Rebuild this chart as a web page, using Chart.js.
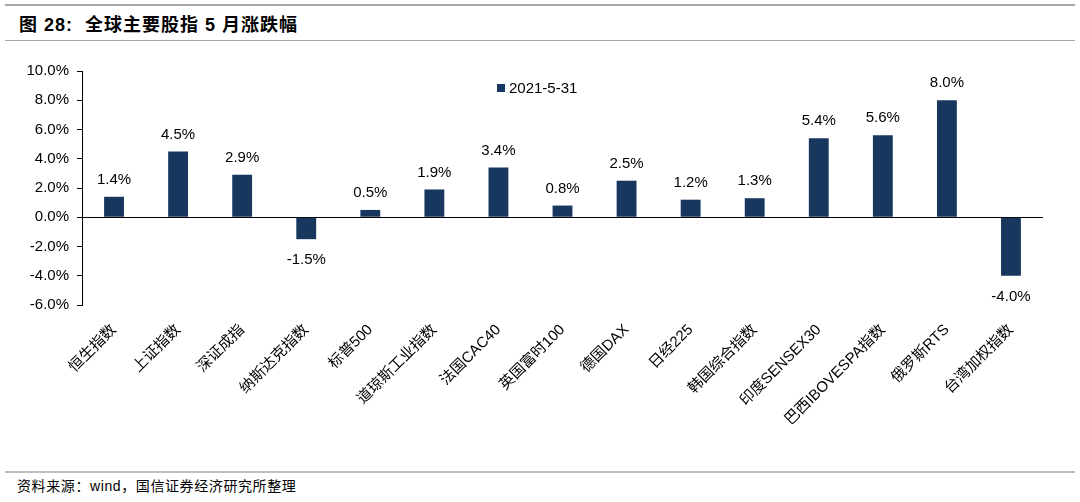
<!DOCTYPE html>
<html><head><meta charset="utf-8">
<script src="https://cdn.jsdelivr.net/npm/chart.js@4/dist/chart.umd.min.js"></script>
<style>
html,body{margin:0;padding:0;background:#fff;}
body{width:1080px;height:502px;position:relative;overflow:hidden;font-family:"Liberation Sans","Noto Sans CJK SC",sans-serif;}
#wrap{position:absolute;left:0;top:0;width:1080px;height:502px;}
.line{position:absolute;left:5px;width:1070px;background:#a6a6a6;}
#title{position:absolute;left:19px;top:10px;font-size:18px;font-weight:bold;color:#000;white-space:pre;letter-spacing:1px;}
#foot{position:absolute;left:17px;top:475px;font-size:14px;color:#000;white-space:pre;letter-spacing:0.6px;}
</style></head>
<body>
<div class="line" style="top:4px;height:2px;"></div>
<div id="title">图 28:  全球主要股指 5 月涨跌幅</div>
<div class="line" style="top:40px;height:1px;"></div>
<div class="line" style="top:471px;height:2px;background:#bfbfbf;"></div>
<div id="foot">资料来源：wind，国信证券经济研究所整理</div>
<div id="wrap"><canvas id="c" width="1080" height="502"></canvas></div>
<script>
const categories = ["恒生指数","上证指数","深证成指","纳斯达克指数","标普500","道琼斯工业指数","法国CAC40","英国富时100","德国DAX","日经225","韩国综合指数","印度SENSEX30","巴西IBOVESPA指数","俄罗斯RTS","台湾加权指数"];
const seriesName = "2021-5-31";
const values = [1.4, 4.5, 2.9, -1.5, 0.5, 1.9, 3.4, 0.8, 2.5, 1.2, 1.3, 5.4, 5.6, 8.0, -4.0];
const yMin = -6, yMax = 10, yStep = 2;

const FONT = '"Liberation Sans","Noto Sans CJK SC",sans-serif';
const barColor = '#17375E';

const labelPlugin = {
  id: 'valueLabels',
  afterDatasetsDraw(chart) {
    const ctx = chart.ctx;
    const meta = chart.getDatasetMeta(0);
    ctx.save();
    ctx.font = '15px ' + FONT;
    ctx.fillStyle = '#000';
    ctx.textAlign = 'center';
    ctx.textBaseline = 'middle';
    meta.data.forEach((bar, i) => {
      const v = values[i];
      const y = v >= 0 ? bar.y - 17 : bar.y + 21;
      ctx.fillText(v.toFixed(1) + '%', bar.x, y);
    });
    ctx.restore();
  }
};

const legendPlugin = {
  id: 'innerLegend',
  afterDraw(chart) {
    const ctx = chart.ctx;
    ctx.save();
    const x = 497, y = 88;
    ctx.fillStyle = barColor;
    ctx.fillRect(x, y - 4, 8, 8);
    ctx.fillStyle = '#000';
    ctx.font = '15px ' + FONT;
    ctx.textAlign = 'left';
    ctx.textBaseline = 'middle';
    ctx.fillText(seriesName, x + 12, y + 1);
    ctx.restore();
  }
};

new Chart(document.getElementById('c'), {
  type: 'bar',
  data: {
    labels: categories,
    datasets: [{
      label: seriesName,
      data: values,
      backgroundColor: barColor,
      barPercentage: 0.31,
      categoryPercentage: 1.0
    }]
  },
  options: {
    responsive: false,
    animation: false,
    layout: { padding: { top: 71, right: 37, left: 0, bottom: 0 } },
    plugins: { legend: { display: false }, tooltip: { enabled: false } },
    scales: {
      x: {
        grid: { display: false, drawTicks: false },
        border: { display: false },
        ticks: {
          color: '#000',
          font: { size: 15, family: FONT },
          maxRotation: 45, minRotation: 45,
          padding: 16,
          autoSkip: false
        },
        afterFit(scale) { scale.height = 197; }
      },
      y: {
        min: yMin, max: yMax,
        border: { display: true, color: '#000', width: 1 },
        grid: {
          drawOnChartArea: true,
          color: (c) => (c.tick && c.tick.value === 0) ? '#000' : 'rgba(0,0,0,0)',
          tickColor: '#000',
          tickLength: 5,
          lineWidth: 1
        },
        ticks: {
          stepSize: yStep,
          color: '#000',
          font: { size: 15, family: FONT },
          padding: 8,
          callback: (v) => v.toFixed(1) + '%'
        },
        afterFit(scale) { scale.width = 82; }
      }
    }
  },
  plugins: [labelPlugin, legendPlugin]
});
</script>
</body></html>
